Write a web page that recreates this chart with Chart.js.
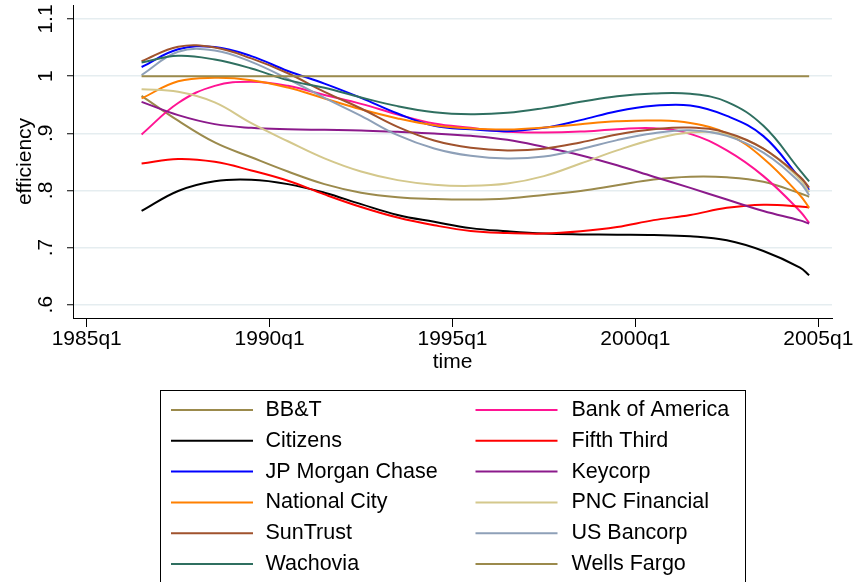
<!DOCTYPE html>
<html>
<head>
<meta charset="utf-8">
<script src="https://cdn.jsdelivr.net/npm/chart.js@4.4.1/dist/chart.umd.min.js"></script>
<style>
html,body{margin:0;padding:0;background:#fff;}
#wrap{width:856px;height:582px;position:relative;overflow:hidden;}
canvas{display:block;}
</style>
</head>
<body>
<div id="wrap"><canvas id="c" width="856" height="582"></canvas></div>
<script>
// ---- data ----
const quarters = ['1986q3','1987q3','1988q3','1989q3','1990q3','1991q3','1992q3','1993q3','1994q3','1995q3',
                  '1996q3','1997q3','1998q3','1999q3','2000q3','2001q3','2002q3','2003q3','2004q3','2004q4'];

const bbt        = [0.9655,0.922,0.884,0.858,0.833,0.811,0.796,0.788,0.785,0.784,0.786,0.792,0.799,0.809,0.819,0.824,0.823,0.815,0.795,0.789];
const bankOfAm   = [0.898,0.953,0.983,0.990,0.983,0.967,0.9515,0.933,0.917,0.9095,0.9025,0.9014,0.903,0.907,0.909,0.899,0.870,0.825,0.7636,0.743];
const citizens   = [0.764,0.799,0.816,0.8185,0.811,0.796,0.776,0.757,0.745,0.734,0.7285,0.7245,0.723,0.7225,0.722,0.7198,0.7128,0.694,0.665,0.6515];
const fifthThird = [0.847,0.855,0.850,0.835,0.817,0.793,0.771,0.7525,0.739,0.729,0.7256,0.7245,0.7285,0.736,0.748,0.757,0.7695,0.775,0.772,0.770];
const jpMorgan   = [1.016,1.047,1.051,1.035,1.009,0.987,0.962,0.9346,0.913,0.907,0.9037,0.9095,0.923,0.9387,0.948,0.9486,0.9305,0.895,0.821,0.801];
const keycorp    = [0.955,0.9317,0.916,0.9095,0.907,0.906,0.905,0.9025,0.8996,0.8955,0.8885,0.876,0.8617,0.844,0.824,0.8044,0.784,0.764,0.7475,0.742];
const natCity    = [0.961,0.991,0.997,0.993,0.980,0.961,0.942,0.926,0.914,0.9084,0.9066,0.910,0.916,0.921,0.9224,0.918,0.8996,0.856,0.7916,0.7695];
const pnc        = [0.977,0.9725,0.954,0.9177,0.886,0.856,0.833,0.818,0.810,0.808,0.812,0.825,0.847,0.870,0.8897,0.9014,0.898,0.873,0.8196,0.797];
const sunTrust   = [1.026,1.0514,1.050,1.031,1.005,0.9726,0.9434,0.9113,0.8874,0.8745,0.8699,0.873,0.884,0.898,0.907,0.910,0.901,0.873,0.8237,0.805];
const usBancorp  = [1.002,1.0426,1.045,1.025,0.995,0.962,0.9305,0.8967,0.8734,0.8605,0.8558,0.8593,0.872,0.888,0.900,0.9054,0.8955,0.866,0.814,0.7916];
const wachovia   = [1.024,1.0356,1.029,1.0134,0.993,0.9796,0.9627,0.9475,0.937,0.9335,0.9358,0.944,0.955,0.965,0.9697,0.969,0.955,0.913,0.835,0.816];
const wellsFargo = [1,1,1,1,1,1,1,1,1,1,1,1,1,1,1,1,1,1,1,1];

const seriesNames  = ['BB&T','Bank of America','Citizens','Fifth Third','JP Morgan Chase','Keycorp',
                      'National City','PNC Financial','SunTrust','US Bancorp','Wachovia','Wells Fargo'];
const seriesValues = [bbt,bankOfAm,citizens,fifthThird,jpMorgan,keycorp,natCity,pnc,sunTrust,usBancorp,wachovia,wellsFargo];
const seriesColors = ['#9b8a4c','#ff1493','#000000','#ff0000','#0000ff','#8b1a8b',
                      '#ff8000','#d4c88c','#a0522d','#8ea0b8','#2f6f60','#9b8a4c'];

const xTickQuarters = ['1985q1','1990q1','1995q1','2000q1','2005q1'];
const yTickValues   = [0.6,0.7,0.8,0.9,1.0,1.1];
const yTickLabels   = ['.6','.7','.8','.9','1','1.1'];

// quarter label -> number of quarters since 1985q1
function qIndex(s){ const y=+s.slice(0,4), q=+s.slice(5); return (y-1985)*4+(q-1); }

const FONT = '"Liberation Sans", Arial, Helvetica, sans-serif';

const datasets = seriesNames.map((name,i)=>({
  label: name,
  data: quarters.map((q,k)=>({x:qIndex(q), y:seriesValues[i][k]})),
  borderColor: seriesColors[i],
  backgroundColor: seriesColors[i],
  borderWidth: 2,
  pointRadius: 0,
  tension: 0.4,
  fill: false,
  order: seriesNames.length - i
}));

const legendPlugin = {
  id: 'stataLegend',
  afterDraw(chart){
    const ctx = chart.ctx;
    ctx.save();
    ctx.strokeStyle = '#000'; ctx.lineWidth = 1;
    ctx.strokeRect(160.5, 390.5, 585, 230);
    ctx.font = '21.5px ' + FONT;
    ctx.textBaseline = 'middle'; ctx.textAlign = 'left'; ctx.fillStyle = '#000';
    chart.data.datasets.forEach((ds,i)=>{
      const row = Math.floor(i/2), col = i%2;
      const y = 410 + row*30.8;
      const lx = col ? 475.5 : 171;
      ctx.strokeStyle = ds.borderColor; ctx.lineWidth = 2;
      ctx.beginPath(); ctx.moveTo(lx, y); ctx.lineTo(lx+82, y); ctx.stroke();
      ctx.fillText(ds.label, col ? 571.5 : 265.5, y);
    });
    ctx.restore();
  }
};

new Chart(document.getElementById('c'), {
  type: 'line',
  data: { datasets },
  plugins: [legendPlugin],
  options: {
    responsive: false,
    animation: false,
    devicePixelRatio: 1,
    layout: { padding: { left: 0, top: 5, right: 24, bottom: 204 } },
    plugins: { legend: { display: false }, tooltip: { enabled: false } },
    scales: {
      x: {
        type: 'linear',
        min: -1.5, max: 81.5,
        afterFit(s){ s.height = 60; s.paddingLeft = 0; s.paddingRight = 0; },
        afterBuildTicks(s){ s.ticks = xTickQuarters.map(q=>({value:qIndex(q)})); },
        ticks: {
          autoSkip: false, maxRotation: 0, minRotation: 0,
          padding: 0, color: '#000',
          font: { family: FONT, size: 21 },
          callback: (v)=> { const i = xTickQuarters.findIndex(q=>qIndex(q)===v); return i>=0 ? xTickQuarters[i] : ''; }
        },
        grid: { drawOnChartArea: false, drawTicks: true, tickLength: 9, tickColor: '#000', tickWidth: 1 },
        border: { display: true, color: '#000', width: 1 },
        title: { display: true, text: 'time', color: '#000', font: { family: FONT, size: 21 }, padding: { top: 0, bottom: 3 } }
      },
      y: {
        type: 'linear',
        min: 0.5767, max: 1.1245,
        afterFit(s){ s.width = 73; s.paddingTop = 0; s.paddingBottom = 0; },
        afterBuildTicks(s){ s.ticks = yTickValues.map(v=>({value:v})); },
        ticks: {
          autoSkip: false, minRotation: 90, maxRotation: 90, crossAlign: 'center',
          padding: 6, color: '#000',
          font: { family: FONT, size: 21 },
          callback: (v)=> { const i = yTickValues.findIndex(t=>Math.abs(t-v)<1e-9); return i>=0 ? yTickLabels[i] : ''; }
        },
        grid: { color: '#e5edf0', lineWidth: 1.5, drawTicks: true, tickLength: 6, tickColor: '#000', tickWidth: 1 },
        border: { display: true, color: '#000', width: 1 },
        title: { display: true, text: 'efficiency', color: '#000', font: { family: FONT, size: 21 }, padding: { top: 13, bottom: 0 } }
      }
    }
  }
});
</script>
</body>
</html>
